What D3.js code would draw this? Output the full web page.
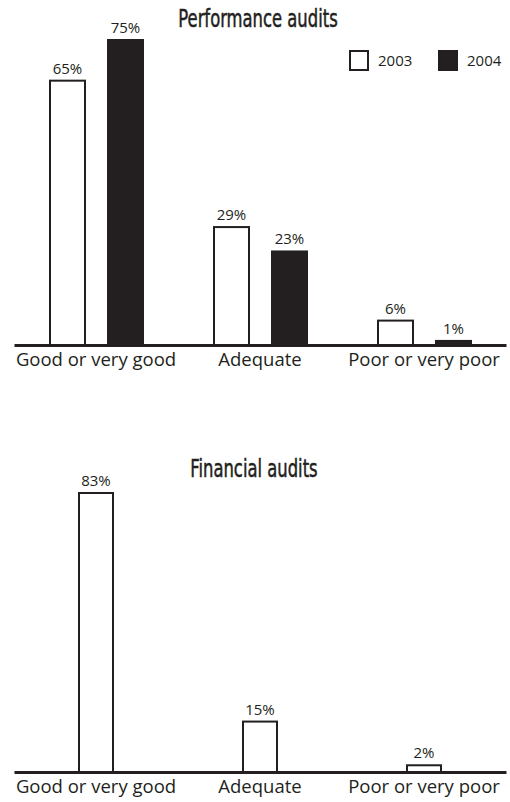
<!DOCTYPE html>
<html>
<head>
<meta charset="utf-8">
<script src="https://cdn.jsdelivr.net/npm/d3@7"></script>
<style>
  html, body { margin: 0; padding: 0; background: #fff; }
  svg { display: block; }
</style>
</head>
<body>
<svg id="chart" width="510" height="802"></svg>
<script>
// Audit quality ratings, share of audits per rating
const categories = ["Good or very good", "Adequate", "Poor or very poor"];
const years = ["2003", "2004"];
const performance2003 = [65, 29, 6];
const performance2004 = [75, 23, 1];
const financial = [83, 15, 2];

const ink = "#231f20";
const titleFont = "'DejaVu Sans Condensed', 'Liberation Sans Narrow', sans-serif";
const labelFont = "'Open Sans', 'Liberation Sans', sans-serif";

const svg = d3.select("#chart");

const x = d3.scaleBand().domain(categories).range([14, 506]).paddingInner(0).paddingOuter(0);

function drawPanel(opts) {
  const g = svg.append("g");
  const y = d3.scaleLinear().domain([0, opts.max]).range([opts.base, opts.top]);

  // title, horizontally compressed
  g.append("text")
    .attr("x", opts.titleX).attr("y", opts.titleY)
    .attr("text-anchor", "middle")
    .attr("font-family", titleFont)
    .attr("font-size", 24)
    .attr("transform", `translate(${opts.titleX},0) scale(0.76,1) translate(${-opts.titleX},0)`)
    .attr("fill", ink)
    .attr("stroke", ink)
    .attr("stroke-width", 0.5)
    .text(opts.title);

  const series = opts.series;
  const inner = d3.scaleBand().domain(series.map(s => s.name))
    .range(opts.innerRange).paddingInner(opts.innerPad).paddingOuter(0);

  series.forEach(s => {
    const bars = g.selectAll(null).data(s.values.map((v, i) => ({ v, c: categories[i] })))
      .enter();
    bars.append("rect")
      .attr("x", d => x(d.c) + inner(s.name))
      .attr("y", d => y(d.v))
      .attr("width", inner.bandwidth())
      .attr("height", d => opts.base - y(d.v))
      .attr("fill", s.fill)
      .attr("stroke", ink)
      .attr("stroke-width", 2);
    bars.append("text")
      .attr("x", d => x(d.c) + inner(s.name) + inner.bandwidth() / 2)
      .attr("y", d => y(d.v) - 7)
      .attr("text-anchor", "middle")
      .attr("font-family", labelFont)
      .attr("font-size", 15)
      .attr("fill", ink)
      .text(d => d.v + "%");
  });

  // baseline axis with category labels
  const axis = d3.axisBottom(x).tickSize(0).tickPadding(8);
  const ax = g.append("g").attr("transform", `translate(0,${opts.base})`).call(axis);
  ax.select(".domain").attr("stroke", ink).attr("stroke-width", 3);
  ax.selectAll("text")
    .attr("font-family", labelFont)
    .attr("font-size", 18.5)
    .attr("fill", ink);
  return g;
}

drawPanel({
  title: "Performance audits", titleX: 258, titleY: 27,
  base: 345, top: 40, max: 75,
  innerRange: [36, 129], innerPad: 23 / 58,
  series: [
    { name: "2003", values: performance2003, fill: "#fff" },
    { name: "2004", values: performance2004, fill: ink }
  ]
});

drawPanel({
  title: "Financial audits", titleX: 254, titleY: 477,
  base: 772, top: 493, max: 83,
  innerRange: [65, 99], innerPad: 0,
  series: [
    { name: "2003", values: financial, fill: "#fff" }
  ]
});

// legend
const legendFills = ["#fff", ink];
const legendX = [350, 439];
const lg = svg.append("g");
years.forEach((yr, i) => {
  lg.append("rect")
    .attr("x", legendX[i]).attr("y", 51).attr("width", 18).attr("height", 19)
    .attr("fill", legendFills[i]).attr("stroke", ink).attr("stroke-width", 2);
  lg.append("text")
    .attr("x", legendX[i] + 28).attr("y", 66)
    .attr("font-family", labelFont).attr("font-size", 15).attr("fill", ink)
    .text(yr);
});
</script>
</body>
</html>
